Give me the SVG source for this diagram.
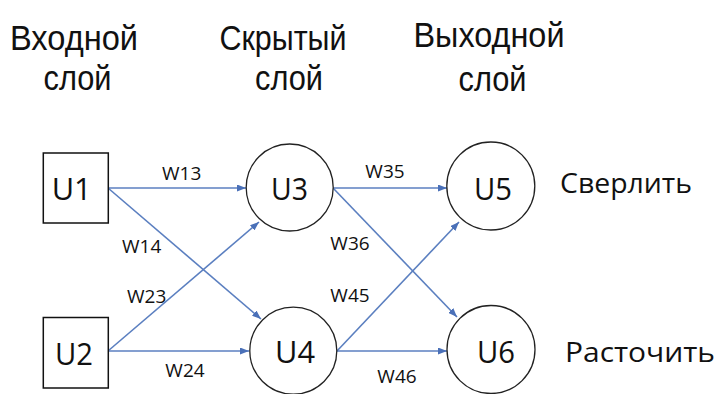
<svg xmlns="http://www.w3.org/2000/svg" width="717" height="394" viewBox="0 0 717 394">
  <style>
    text { font-family: "Open Sans", "Noto Sans", "Liberation Sans", sans-serif; fill: #111; }
    .hdr { font-family: "Liberation Sans", "Arial", sans-serif; font-size: 35px; text-anchor: middle; }
    .unit { font-size: 31px; text-anchor: middle; }
    .wt { font-size: 19px; text-anchor: middle; }
    .out { font-size: 28px; }
    .box { fill: #fff; stroke: #111; stroke-width: 1.5; }
    .neuron { fill: #fff; stroke: #222; stroke-width: 1.3; }
    .link { fill: none; stroke: #5b7fc0; stroke-width: 1.6; marker-end: url(#tip); }
  </style>
  <defs>
    <marker id="tip" markerUnits="userSpaceOnUse" markerWidth="9" markerHeight="7" refX="9" refY="3.5" orient="auto">
      <path d="M0,0 L9,3.5 L0,7 z" fill="#4a70b8"/>
    </marker>
  </defs>

  <rect width="717" height="394" fill="#fff"/>

  <!-- layer headings -->
  <g id="headings">
    <text class="hdr" x="74" y="50" textLength="128" lengthAdjust="spacingAndGlyphs">Входной</text>
    <text class="hdr" x="77.5" y="90" textLength="68" lengthAdjust="spacingAndGlyphs">слой</text>
    <text class="hdr" x="283" y="50" textLength="127" lengthAdjust="spacingAndGlyphs">Скрытый</text>
    <text class="hdr" x="289" y="90" textLength="68" lengthAdjust="spacingAndGlyphs">слой</text>
    <text class="hdr" x="489" y="47" textLength="151" lengthAdjust="spacingAndGlyphs">Выходной</text>
    <text class="hdr" x="492.5" y="91" textLength="68" lengthAdjust="spacingAndGlyphs">слой</text>
  </g>

  <!-- weighted connections -->
  <g id="connectors">
    <line class="link" x1="108" y1="188" x2="246" y2="188"/>
    <line class="link" x1="108" y1="188" x2="261" y2="319"/>
    <line class="link" x1="108" y1="351" x2="259" y2="222"/>
    <line class="link" x1="108" y1="351" x2="249" y2="351"/>
    <line class="link" x1="333" y1="188" x2="447" y2="188"/>
    <line class="link" x1="333" y1="188" x2="457" y2="317"/>
    <line class="link" x1="337" y1="351" x2="459" y2="222"/>
    <line class="link" x1="337" y1="351" x2="447" y2="351"/>
    <text class="wt" x="181.7" y="179.5">W13</text>
    <text class="wt" x="141.7" y="253.3">W14</text>
    <text class="wt" x="146.7" y="302.7">W23</text>
    <text class="wt" x="185" y="377.3">W24</text>
    <text class="wt" x="385" y="178">W35</text>
    <text class="wt" x="350" y="250">W36</text>
    <text class="wt" x="350" y="301.7">W45</text>
    <text class="wt" x="397" y="382.7">W46</text>
  </g>

  <!-- input layer -->
  <g id="U1">
    <rect class="box" x="43.3" y="153" width="65" height="70"/>
    <text class="unit" x="71.7" y="200" textLength="40" lengthAdjust="spacingAndGlyphs">U1</text>
  </g>
  <g id="U2">
    <rect class="box" x="43.3" y="317.5" width="65" height="70.5"/>
    <text class="unit" x="74" y="365" textLength="38" lengthAdjust="spacingAndGlyphs">U2</text>
  </g>

  <!-- hidden layer -->
  <g id="U3">
    <circle class="neuron" cx="289.7" cy="187.5" r="43.5"/>
    <text class="unit" x="289.5" y="200" textLength="37" lengthAdjust="spacingAndGlyphs">U3</text>
  </g>
  <g id="U4">
    <circle class="neuron" cx="293.3" cy="350.7" r="43.5"/>
    <text class="unit" x="295" y="363.3" textLength="40" lengthAdjust="spacingAndGlyphs">U4</text>
  </g>

  <!-- output layer -->
  <g id="U5">
    <circle class="neuron" cx="490.8" cy="186" r="44"/>
    <text class="unit" x="493" y="200" textLength="38" lengthAdjust="spacingAndGlyphs">U5</text>
  </g>
  <g id="U6">
    <circle class="neuron" cx="491" cy="349.5" r="44"/>
    <text class="unit" x="496" y="362.7" textLength="38" lengthAdjust="spacingAndGlyphs">U6</text>
  </g>

  <!-- output meanings -->
  <g id="outputs">
    <text class="out" x="560" y="193" textLength="132" lengthAdjust="spacingAndGlyphs">Сверлить</text>
    <text class="out" x="565" y="361.7" textLength="150" lengthAdjust="spacingAndGlyphs">Расточить</text>
  </g>
</svg>
